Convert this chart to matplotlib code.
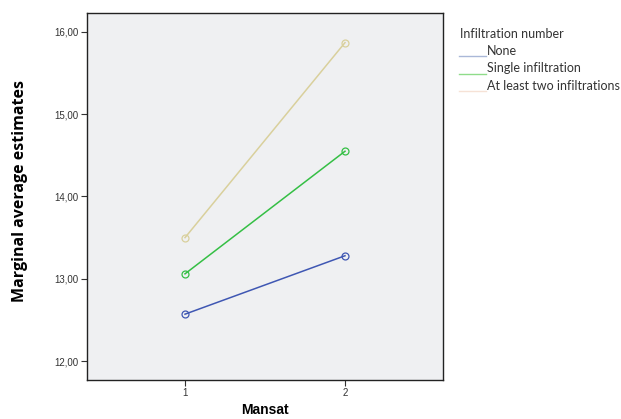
import matplotlib.pyplot as plt
from matplotlib.lines import Line2D

# data
mansat = [1, 2]
groups = ["None", "Single infiltration", "At least two infiltrations"]
none_vals = [12.57, 13.28]
single_vals = [13.06, 14.55]
two_vals = [13.50, 15.87]
yticks = [12, 13, 14, 15, 16]

line_colors = ["#3f57b3", "#35bf45", "#d9d09c"]
legend_colors = ["#aab8d8", "#8fdc8a", "#f6e2d6"]

fig = plt.figure(figsize=(6.21, 4.19), dpi=100)
ax = fig.add_axes([87 / 621, 1 - 380 / 419, 356 / 621, 367 / 419])
ax.set_facecolor("#eff0f2")

for vals, c in zip([none_vals, single_vals, two_vals], line_colors):
    ax.plot(mansat, vals, color=c, linewidth=1.1, marker="o", markersize=5,
            markerfacecolor="none", markeredgecolor=c, markeredgewidth=0.9)

ax.set_xlim(0.3875, 2.6125)
ax.set_ylim(11.77, 16.23)
ax.set_xticks(mansat)
ax.set_xticklabels([str(m) for m in mansat], fontsize=7, family="Liberation Sans")
ax.set_yticks(yticks)
ax.set_yticklabels([f"{v:.2f}".replace(".", ",") for v in yticks],
                   fontsize=7, family="Liberation Sans")
ax.tick_params(direction="out", length=4, width=0.8, colors="#333333", pad=2)
for s in ax.spines.values():
    s.set_color("#222222")
    s.set_linewidth(1.0)

ax.set_xlabel("Mansat", fontsize=10, fontweight="bold", family="Liberation Sans")
ax.xaxis.set_label_coords(0.5, -0.062)
ax.set_ylabel("Marginal average estimates", fontsize=11.5, fontweight="bold",
              family="Open Sans")
ax.yaxis.set_label_coords(-0.165, 0.515)

# legend drawn by hand: short faint lines sitting on the text baseline
fig.text(460 / 621, 1 - 34 / 419, "Infiltration number", fontsize=9,
         family="Lato", va="center", ha="left", color="#333333")
for i, (g, c) in enumerate(zip(groups, legend_colors)):
    ybase = 56.5 + i * 17.5
    fig.text(487 / 621, 1 - (ybase - 5.5) / 419, g, fontsize=9, family="Lato",
             va="center", ha="left", color="#333333")
    fig.add_artist(Line2D([459 / 621, 486 / 621], [1 - ybase / 419] * 2,
                          color=c, linewidth=1.0))

fig.savefig("out.png", dpi=100)
